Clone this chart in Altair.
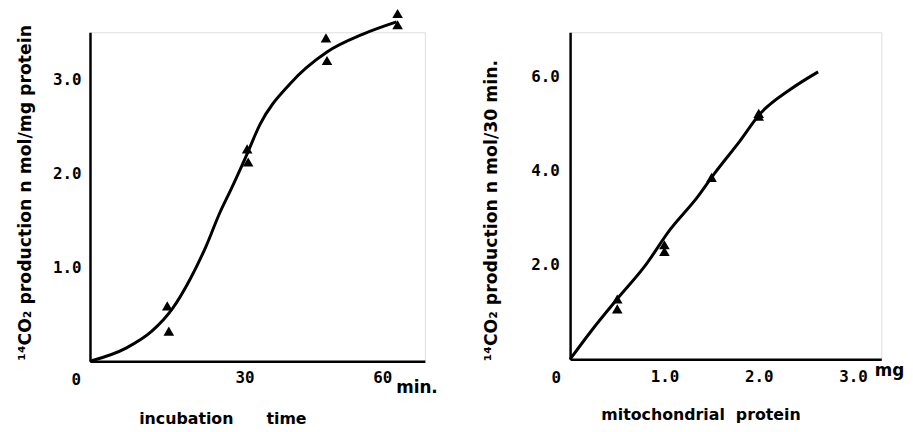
import altair as alt
import pandas as pd

# ---- left panel: incubation time ----
time_pts = [15.0, 15.3, 30.5, 30.7, 45.8, 46.0, 59.7, 59.7]
co2_time_pts = [0.59, 0.32, 2.26, 2.12, 3.44, 3.20, 3.70, 3.58]
time_curve = [0, 7, 12, 16, 19.4, 22.5, 25.2, 27.3, 30.2, 33, 38.8, 46, 53, 59.5]
co2_time_curve = [0, 0.14, 0.32, 0.56, 0.87, 1.22, 1.58, 1.82, 2.17, 2.52, 2.95, 3.29, 3.48, 3.61]
time_ticks = [30, 60]
co2_time_ticks = [1.0, 2.0, 3.0]

# ---- right panel: mitochondrial protein ----
prot_pts = [0.5, 0.5, 1.0, 1.0, 1.5, 2.0, 2.0]
co2_prot_pts = [1.28, 1.07, 2.43, 2.29, 3.86, 5.22, 5.16]
prot_curve = [0, 0.22, 0.5, 0.79, 1.06, 1.35, 1.53, 1.8, 2.01, 2.33, 2.63]
co2_prot_curve = [0, 0.59, 1.28, 1.97, 2.75, 3.44, 3.94, 4.63, 5.2, 5.72, 6.1]
prot_ticks = [1.0, 2.0, 3.0]
co2_prot_ticks = [2.0, 4.0, 6.0]

LABEL_FONT = "DejaVu Sans Mono"
TITLE_FONT = "DejaVu Sans"
NB = "\u00a0"


def axis(**kw):
    base = dict(
        grid=False, ticks=False, domainColor="black", domainWidth=2.5,
        labelFont=LABEL_FONT, labelFontSize=16, labelFontWeight="bold", labelColor="black",
        titleFont=TITLE_FONT, titleFontSize=16, titleFontWeight="bold", titleColor="black",
    )
    base.update(kw)
    return alt.Axis(**base)


def panel(xs, ys, cx, cy, xdom, ydom, xaxis, yaxis, texts, w, h):
    pts = pd.DataFrame({"x": xs, "y": ys})
    cur = pd.DataFrame({"x": cx, "y": cy})
    xsc = alt.Scale(domain=xdom, nice=False, zero=False)
    ysc = alt.Scale(domain=ydom, nice=False, zero=False)
    line = alt.Chart(cur).mark_line(color="black", strokeWidth=3, interpolate="monotone").encode(
        x=alt.X("x:Q", scale=xsc, axis=xaxis),
        y=alt.Y("y:Q", scale=ysc, axis=yaxis),
    )
    tri = alt.Chart(pts).mark_point(shape="triangle-up", filled=True, color="black", size=115, opacity=1).encode(
        x=alt.X("x:Q", scale=xsc), y=alt.Y("y:Q", scale=ysc)
    )
    layers = [line, tri]
    for (tx, ty, label, dx, dy, align, size) in texts:
        df = pd.DataFrame({"x": [tx], "y": [ty], "t": [label]})
        layers.append(
            alt.Chart(df).mark_text(
                font=LABEL_FONT if label == "0" else TITLE_FONT, fontSize=size, fontWeight="bold",
                color="black", dx=dx, dy=dy, align=align, baseline="alphabetic",
            ).encode(x=alt.X("x:Q", scale=xsc), y=alt.Y("y:Q", scale=ysc), text="t:N")
        )
    return alt.layer(*layers).properties(width=w, height=h)


left = panel(
    time_pts, co2_time_pts, time_curve, co2_time_curve, [0, 65], [0, 3.5],
    axis(values=time_ticks, format="d", labelPadding=9,
         labelOffset={"condition": {"test": "datum.value == 60", "value": -17}, "value": 0},
         title="incubation" + NB * 6 + "time", titleX=134, titleY=63, titleAlign="center",
         titleBaseline="alphabetic"),
    axis(values=co2_time_ticks, format=".1f", labelPadding=9,
         title="¹⁴CO₂ production n mol/mg protein", titleX=-60, titleY=162,
         titleAlign="center", titleBaseline="alphabetic", titleAngle=270, titleFontSize=17.5),
    [(0, 0, "0", -14, 24, "center", 16), (60, 0, "min.", -3, 32, "left", 17)],
    339, 333,
)

right = panel(
    prot_pts, co2_prot_pts, prot_curve, co2_prot_curve, [0, 3.3], [0, 6.94],
    axis(values=prot_ticks, format=".1f", labelPadding=9,
         title="mitochondrial" + NB * 2 + "protein", titleX=132, titleY=61, titleAlign="center",
         titleBaseline="alphabetic"),
    axis(values=co2_prot_ticks, format=".1f", labelPadding=11,
         title="¹⁴CO₂ production n mol/30 min.", titleX=-75, titleY=180,
         titleAlign="center", titleBaseline="alphabetic", titleAngle=270, titleFontSize=17.5),
    [(0, 0, "0", -14, 24, "center", 16), (3.0, 0, "mg", 22, 17, "left", 17)],
    315, 331,
)

chart = alt.hconcat(left, right, spacing=43).properties(
    padding={"left": 8, "top": -3, "right": 0, "bottom": 0}
).configure_view(stroke=None).configure(background="white")

chart.save("out.html", embed_options={"renderer": "svg", "actions": False})
